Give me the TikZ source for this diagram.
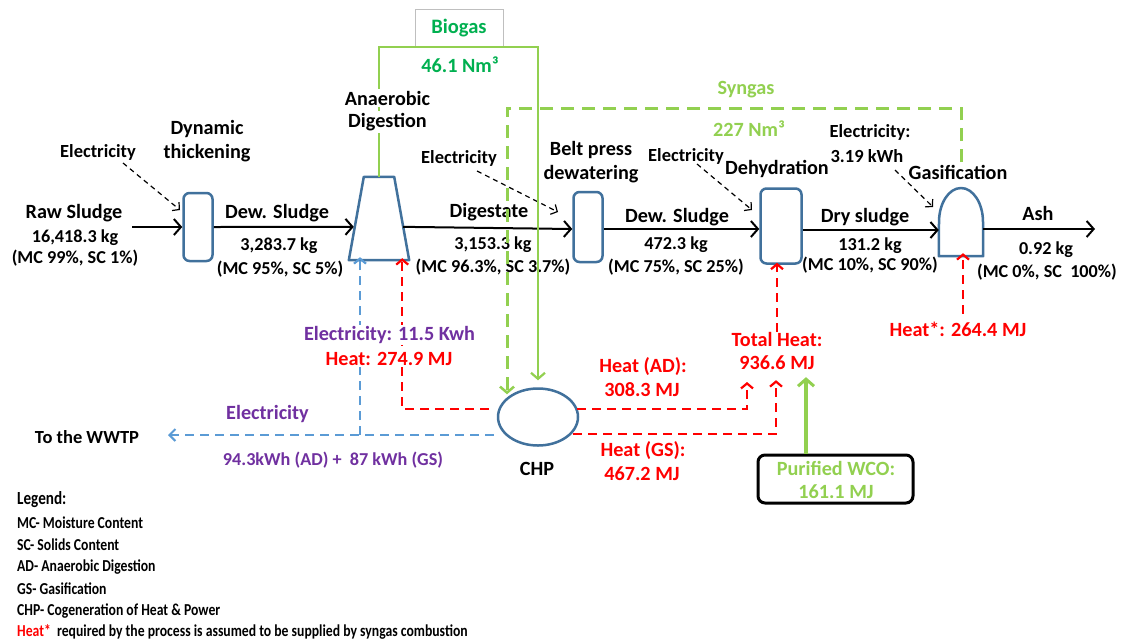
\documentclass[tikz,border=0pt]{standalone}
\usepackage{fontspec}
\setmainfont{Carlito}
\newfontfamily\legfont{Carlito}[FakeStretch=0.82]
\usetikzlibrary{arrows.meta,shapes.geometric,calc}
\definecolor{boxblue}{HTML}{41719C}
\definecolor{elblue}{HTML}{5B9BD5}
\definecolor{lgreen}{HTML}{92D050}
\definecolor{dgreen}{HTML}{00B050}
\definecolor{purp}{HTML}{7030A0}
\definecolor{hred}{HTML}{FF0000}
\begin{document}
\begin{tikzpicture}[x=1pt,y=-1pt,
  every node/.style={inner sep=0pt,align=center},
  lbl/.style={font=\fontsize{20.2}{23}\bfseries\selectfont},
  num/.style={font=\fontsize{18.2}{21}\bfseries\selectfont},
  sml/.style={font=\fontsize{18.5}{21}\bfseries\selectfont},
  leg/.style={font=\legfont\fontsize{16.7}{19}\bfseries\selectfont,anchor=west},
  pbox/.style={draw=boxblue,line width=2.5pt,rounded corners=6pt},
  flow/.style={draw=black,line width=2pt,-{Straight Barb[length=7pt,width=16pt,line width=2pt]}},
  elec/.style={draw=black,line width=1.2pt,dash pattern=on 5pt off 4pt,-{Straight Barb[length=5pt,width=11pt,line width=1.2pt]}},
  heat/.style={draw=hred,line width=2.2pt,dash pattern=on 9pt off 6pt,-{Straight Barb[length=5pt,width=12pt,line width=2.2pt]}},
  blu/.style={draw=elblue,line width=2.2pt,dash pattern=on 9pt off 6pt,-{Straight Barb[length=5pt,width=12pt,line width=2.2pt]}},
  syn/.style={draw=lgreen,line width=3pt,dash pattern=on 13pt off 8pt,-{Straight Barb[length=6pt,width=14pt,line width=2.5pt]}},
  bio/.style={draw=lgreen,line width=2.2pt,-{Straight Barb[length=6pt,width=14pt,line width=2.2pt]}},
  wco/.style={draw=lgreen,line width=4pt,-{Straight Barb[length=7pt,width=16pt,line width=3pt]}}
]
\useasboundingbox[fill=white] (0,0) rectangle (1127,641);

% ---- process units
\node[pbox,minimum width=29pt,minimum height=68pt] (dt) at (198,227) {};
\node[minimum width=60pt,minimum height=83pt] (ad) at (379,218.5) {};
\draw[boxblue,line width=2.5pt,line join=round] (ad.south west) -- ($(ad.north west)+(15,0)$) -- ($(ad.north east)+(-15,0)$) -- (ad.south east) -- cycle;
\node[pbox,minimum width=29pt,minimum height=70pt] (bp) at (588,227) {};
\node[pbox,minimum width=41pt,minimum height=75pt] (dh) at (781,226) {};
\node[minimum width=44pt,minimum height=68pt] (gs) at (961,222) {};
\draw[boxblue,line width=2.5pt,line join=round] (gs.south west) -- (939,222) arc[start angle=180,end angle=360,x radius=22,y radius=34] -- (gs.south east) -- cycle;
\node[draw=boxblue,line width=2.5pt,ellipse,minimum width=80pt,minimum height=57pt] (chp) at (538,417) {};

% ---- free ends
\coordinate (rawin) at (132,227);
\coordinate (ashout) at (1095,229);
\coordinate (wwtp) at (168,435);
\coordinate (bsplit) at (360,435);

% ---- main flow
\draw[flow] (rawin) -- (dt.west |- rawin);
\draw[flow] (dt.east |- rawin) -- ($(ad.south west)!0.4!(ad.north west)+(5,0)$);
\draw[flow] ($(ad.south east)!0.4!(ad.north east)+(-6,0)$) -- (bp.west |- 0,229);
\draw[flow] (bp.east |- 0,229) -- (dh.west |- 0,229);
\draw[flow] (dh.east |- 0,230) -- (gs.west |- 0,230);
\draw[flow] (gs.east |- ashout) -- (ashout);

% ---- labels main line
\node[lbl] (rs) at (74,213) {Raw Sludge};
\node[num] (rs1) at (75,238) {16,418.3 kg};
\node[num] (rs2) at (75,258) {(MC 99\%, SC 1\%)};
\node[lbl] (dtl) at (207,129) {Dynamic};
\node[lbl] (dtl2) at (207,153) {thickening};
\node[sml] (e1) at (98,152) {Electricity};
\node[lbl] (ds1) at (277,213) {Dew. Sludge};
\node[num] (ds1a) at (279,246) {3,283.7 kg};
\node[num] (ds1b) at (280,269) {(MC 95\%, SC 5\%)};
\node[lbl] (dg) at (489,212) {Digestate};
\node[num] (dga) at (493,245) {3,153.3 kg};
\node[num] (dgb) at (493,267) {(MC 96.3\%, SC 3.7\%)};
\node[sml] (e2) at (459,158) {Electricity};
\node[lbl] (bpl) at (591,150) {Belt press};
\node[lbl] (bpl2) at (591,174) {dewatering};
\node[lbl] (ds2) at (677,217) {Dew. Sludge};
\node[num] (ds2a) at (676,245) {472.3 kg};
\node[num] (ds2b) at (676,267) {(MC 75\%, SC 25\%)};
\node[sml] (e3) at (686,156) {Electricity};
\node[lbl] (dhl) at (777,169) {Dehydration};
\node[lbl] (dr) at (865,217) {Dry sludge};
\node[num] (dra) at (870,246) {131.2 kg};
\node[num] (drb) at (870,265) {(MC 10\%, SC 90\%)};
\node[sml] (e4) at (870,132) {Electricity:};
\node[sml] (e4b) at (867,156) {3.19 kWh};
\node[lbl] (gsl) at (958,172) {Gasification};
\node[lbl] (ash) at (1038,213) {Ash};
\node[num] (asha) at (1046,250) {0.92 kg};
\node[num] (ashb) at (1047,272) {(MC 0\%, SC\ \ 100\%)};

% ---- electricity inputs
\coordinate (e1s) at (123,163); \coordinate (e1e) at (180,210);
\coordinate (e2s) at (477,171); \coordinate (e2e) at (558,212);
\coordinate (e3s) at (697,164); \coordinate (e3e) at (752,210);
\coordinate (e4s) at (895,170); \coordinate (e4e) at (933,207);
\draw[elec] (e1s) -- (e1e);
\draw[elec] (e2s) -- (e2e);
\draw[elec] (e3s) -- (e3e);
\draw[elec] (e4s) -- (e4e);

% ---- biogas
\node[draw=black!25,line width=0.8pt,minimum width=88pt,minimum height=38pt,font=\fontsize{20.5}{23}\bfseries\selectfont,text=dgreen] (bg) at (459,28) {Biogas};
\draw[bio,shorten >=7pt] (ad.north) -- (379,47) -- (538,47) -- (chp.north);
\node[lbl,fill=white,inner sep=2pt] (adl) at (387.5,98) {Anaerobic};
\node[lbl,fill=white,inner sep=2pt] (adl2) at (387.5,122) {Digestion};
\node[lbl,text=dgreen] (bgv) at (460,65) {46.1 Nm³};

% ---- syngas
\coordinate (sgs) at (961,162);
\draw[syn] (sgs) -- (961,108) -- (507,108) -- ($(chp.north)+(-31,7)$);
\node[lbl,text=lgreen] (sg) at (746,90) {Syngas};
\node[lbl,text=lgreen] (sgv) at (749,129) {227 Nm³};

% ---- CHP
\node[lbl] (chpl) at (537,469) {CHP};
\draw[heat,shorten >=-2pt] ($(chp.west)+(-8,-8)$) -| ([xshift=-7pt]ad.south east);
\draw[blu,-{Straight Barb[length=6pt,width=12pt,line width=2pt]}] ($(chp.west)+(-3,18)$) -- (wwtp);
\draw[blu,shorten >=-3pt] (bsplit) -- ([xshift=-19pt]ad.south);
\node[lbl,text=purp,fill=white,inner sep=1pt] (ea) at (389.5,335) {Electricity: 11.5 Kwh};
\node[lbl,text=hred,fill=white,inner sep=1pt] (ha) at (389,359) {Heat: 274.9 MJ};
\node[lbl,text=purp] (ew) at (267.5,414) {Electricity};
\node[num,text=purp] (ewv) at (333,460) {94.3kWh (AD) +\ \ 87 kWh (GS)};
\node[sml] (tw) at (87,437) {To the WWTP};

% ---- heat to dehydration
\node[lbl,text=hred] (th) at (777,339) {Total Heat:};
\node[lbl,text=hred] (thv) at (777,363) {936.6 MJ};
\draw[heat,shorten >=10pt] ($(chp.east)+(-2,-8)$) -| (747,372);
\draw[heat,shorten >=10pt] ($(chp.east)+(-6,17)$) -| (thv.south -| 776,0);
\draw[heat,shorten >=-2pt] (th.north -| 777,0) -- (dh.south -| 777,0);
\node[lbl,text=hred] (had) at (643,367) {Heat (AD):};
\node[lbl,text=hred] (hadv) at (642,390) {308.3 MJ};
\node[lbl,text=hred] (hgs) at (643,451) {Heat (GS):};
\node[lbl,text=hred] (hgsv) at (642,474) {467.2 MJ};

% ---- WCO
\node[draw=black,line width=3pt,rounded corners=7pt,minimum width=155pt,minimum height=48pt] (wco) at (835.5,479) {};
\node[lbl,text=lgreen] (wcol) at (836,468) {Purified WCO:};
\node[lbl,text=lgreen] (wcov) at (836,492) {161.1 MJ};
\draw[wco,shorten >=7pt] ([xshift=-29.5pt]wco.north) -- ([xshift=-29.5pt]wco.north |- thv.south) ;

% ---- gasification heat
\node[lbl,text=hred] (hs) at (958,329) {Heat*: 264.4 MJ};
\draw[heat,shorten >=-3pt] ($(hs.north -| 963,0)+(0,-8)$) -- (gs.south -| 963,0);

% ---- legend
\node[leg] (l0) at (17,500) {\fontsize{18.5}{21}\selectfont Legend:};
\node[leg] (l1) at (17,523) {MC- Moisture Content};
\node[leg] (l2) at (17,545) {SC- Solids Content};
\node[leg] (l3) at (17,567) {AD- Anaerobic Digestion};
\node[leg] (l4) at (17,589) {GS- Gasification};
\node[leg] (l5) at (17,611) {CHP- Cogeneration of Heat \& Power};
\node[leg] (l6) at (17,632) {\textcolor{hred}{Heat*}\ \ required by the process is assumed to be supplied by syngas combustion};
\end{tikzpicture}
\end{document}
